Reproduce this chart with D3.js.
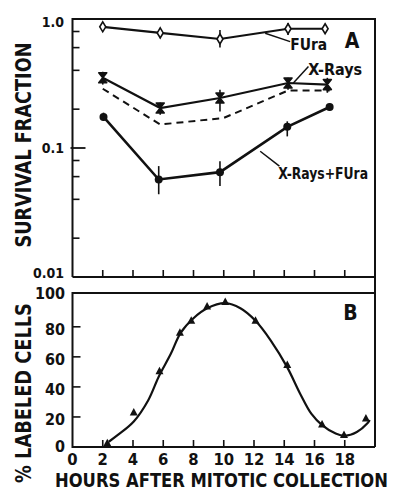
<!DOCTYPE html>
<html><head><meta charset="utf-8">
<script src="https://cdn.jsdelivr.net/npm/d3@7"></script>
<style>
html,body{margin:0;padding:0;background:#fff;}
svg text{font-family:"DejaVu Sans Condensed","Liberation Sans Narrow","DejaVu Sans",sans-serif;font-weight:bold;fill:#111;}
</style></head>
<body>
<svg id="chart" width="394" height="496"></svg>
<script>
// ---------- Panel A data (survival fraction, log scale) ----------
const furaHours = [2.0, 5.8, 9.75, 14.25, 16.7];
const furaSurv  = [0.87, 0.78, 0.70, 0.84, 0.84];
const furaLo    = [0.83, 0.71, 0.60, 0.75, 0.80];
const furaHi    = [0.91, 0.85, 0.82, 0.93, 0.88];

const xrayHours = [2.0, 5.8, 9.75, 14.25, 16.85];
const xraySurv  = [0.35, 0.204, 0.244, 0.319, 0.31];
const xrayLo    = [0.31, 0.181, 0.192, 0.283, 0.268];
const xrayHi    = [0.39, 0.225, 0.283, 0.35, 0.35];

const dashHours = [2.0, 5.8, 10.0, 14.25, 17.0];
const dashSurv  = [0.288, 0.152, 0.171, 0.279, 0.279];

const comboHours = [2.05, 5.7, 9.75, 14.2, 17.0];
const comboSurv  = [0.174, 0.057, 0.065, 0.146, 0.208];
const comboLo    = [0.162, 0.0438, 0.0507, 0.123, 0.195];
const comboHi    = [0.188, 0.0724, 0.079, 0.161, 0.222];

const yTicksA      = [1.0, 0.1, 0.01];
const yTickLabelsA = ["1.0", "0.1", "0.01"];
const yMinorTicksA = [0.8, 0.6, 0.4, 0.2, 0.08, 0.06, 0.04, 0.02];

// ---------- Panel B data (% labeled cells) ----------
const labHours = [2.3, 4.05, 5.75, 7.1, 7.85, 8.9, 10.1, 12.1, 14.2, 16.5, 17.95, 19.4];
const labPct   = [2.5, 23, 50.5, 76, 84, 93.5, 96.5, 84, 54.5, 15, 8, 19];

const curveHours = [2.4, 3.0, 4.05, 5.0, 5.7, 6.5, 7.15, 8.0, 8.9, 10.1, 11.1, 12.1, 13.1, 14.2, 15.05, 15.8, 16.5, 17.4, 18.0, 18.8, 19.5, 19.65];
const curvePct   = [3.5, 8, 17, 31, 46.8, 62, 76, 85.7, 92.3, 95.7, 92.3, 84, 71, 53, 35.5, 22, 14.6, 9, 7.5, 10, 15.8, 18];

const yTicksB = [0, 20, 40, 60, 80, 100];
const xTicks  = [0, 2, 4, 6, 8, 10, 12, 14, 16, 18];

// ---------- labels ----------
const yTitleA = "SURVIVAL FRACTION";
const yTitleB = "% LABELED CELLS";
const xTitle  = "HOURS AFTER MITOTIC COLLECTION";
const seriesNames = ["FUra", "X-Rays", "X-Rays+FUra"];
const panelNames  = ["A", "B"];

// ---------- layout ----------
const svg = d3.select("#chart");
const L = 72.5, R = 375;
const topA = 19, botA = 277, topB = 293, botB = 447;

const x  = d3.scaleLinear().domain([0, 20]).range([L, R]);
const yA = d3.scaleLog().domain([0.01, 1]).range([botA, topA]);
const yB = d3.scaleLinear().domain([0, 102.5]).range([botB, topB]);

const ink = "#111";

// text placed at (px,py), rotated by rot, horizontally squeezed to width w
function fitText(str, px, py, size, w, rot, anchor) {
  const g = svg.append("g");
  const t = g.append("text").attr("font-size", size).attr("text-anchor", anchor || "start").text(str);
  const nat = t.node().getComputedTextLength();
  const s = Math.min(1.3, w / nat);
  g.attr("transform", `translate(${px},${py}) rotate(${rot || 0}) scale(${s},1)`);
  return t;
}

// frames
svg.append("path").attr("fill","none").attr("stroke",ink).attr("stroke-width",2)
  .attr("d", `M${L},${botA}V${topA}H${R}V${botB}`);
svg.append("line").attr("x1",L).attr("x2",R).attr("y1",botA).attr("y2",botA).attr("stroke",ink).attr("stroke-width",2);
svg.append("path").attr("fill","none").attr("stroke",ink).attr("stroke-width",2)
  .attr("d", `M${R},${topB}H${L}V${botB}H${R}`);

// x ticks (inside, pointing up) for both panels
const xt = xTicks.filter(d => d > 0);
[botA, botB].forEach(b => {
  svg.append("g").selectAll("line").data(xt).join("line")
    .attr("x1", d => x(d)).attr("x2", d => x(d))
    .attr("y1", b).attr("y2", b - 7)
    .attr("stroke", ink).attr("stroke-width", 1.6);
});
svg.append("g").selectAll("text").data(xTicks).join("text")
  .attr("x", d => x(d)).attr("y", 464.5)
  .attr("text-anchor","middle").attr("font-size",16.5)
  .text(d => d);

// panel A y ticks
svg.append("g").selectAll("line").data(yMinorTicksA).join("line")
  .attr("x1", L).attr("x2", L + 7).attr("y1", d => yA(d)).attr("y2", d => yA(d))
  .attr("stroke", ink).attr("stroke-width", 1.6);
svg.append("line").attr("x1", L - 2).attr("x2", L + 13).attr("y1", yA(0.1)).attr("y2", yA(0.1))
  .attr("stroke", ink).attr("stroke-width", 1.8);
svg.append("g").selectAll("text").data(yTicksA).join("text")
  .attr("x", 64).attr("y", (d,i) => yA(d) + (i === 0 ? 8 : i === 2 ? 1 : 5))
  .attr("text-anchor","end").attr("font-size",14)
  .text((d,i) => yTickLabelsA[i]);

// panel B y ticks
svg.append("g").selectAll("line").data(yTicksB.filter(d => d > 0 && d < 100)).join("line")
  .attr("x1", L).attr("x2", L + 8).attr("y1", d => yB(d)).attr("y2", d => yB(d))
  .attr("stroke", ink).attr("stroke-width", 1.6);
svg.append("g").selectAll("text").data(yTicksB).join("text")
  .attr("x", 65).attr("y", d => d === 100 ? yB(d) + 2 : d === 0 ? yB(d) + 5 : yB(d) + 8)
  .attr("text-anchor","end").attr("font-size",16)
  .text(d => d);

// axis titles
fitText(yTitleA, 31, 145, 21, 205, -90, "middle");
fitText(yTitleB, 31, 393, 21, 180, -90, "middle");
fitText(xTitle, 55, 487, 19.5, 333, 0, "start");

// ---------- Panel A series ----------
const zip = (xs, ys) => xs.map((h, i) => [h, ys[i]]);
const lineA = d3.line().x(d => x(d[0])).y(d => yA(d[1]));

svg.append("path").datum(zip(dashHours, dashSurv)).attr("d", lineA)
  .attr("fill","none").attr("stroke",ink).attr("stroke-width",2).attr("stroke-dasharray","7,5");

[[furaHours, furaSurv], [xrayHours, xraySurv], [comboHours, comboSurv]].forEach(([h, v], k) => {
  svg.append("path").datum(zip(h, v)).attr("d", lineA)
    .attr("fill","none").attr("stroke",ink).attr("stroke-width", k === 2 ? 2.6 : 2.2);
});

// error bars
[[furaHours, furaLo, furaHi], [xrayHours, xrayLo, xrayHi], [comboHours, comboLo, comboHi]].forEach(([h, lo, hi]) => {
  svg.append("g").selectAll("line").data(h).join("line")
    .attr("x1", d => x(d)).attr("x2", d => x(d))
    .attr("y1", (d,i) => yA(lo[i])).attr("y2", (d,i) => yA(hi[i]))
    .attr("stroke", ink).attr("stroke-width", 1.6);
});

// markers: FUra open diamond
svg.append("g").selectAll("path").data(zip(furaHours, furaSurv)).join("path")
  .attr("transform", d => `translate(${x(d[0])},${yA(d[1])})`)
  .attr("d","M0,-5L3,0L0,5L-3,0Z")
  .attr("fill","#fff").attr("stroke",ink).attr("stroke-width",1.6);
// X-Rays hourglass
svg.append("g").selectAll("path").data(zip(xrayHours, xraySurv)).join("path")
  .attr("transform", d => `translate(${x(d[0])},${yA(d[1])})`)
  .attr("d","M-4,-5H4L-4,5H4Z")
  .attr("fill",ink).attr("stroke",ink).attr("stroke-width",1.6).attr("stroke-linejoin","round");
// combo filled circle
svg.append("g").selectAll("circle").data(zip(comboHours, comboSurv)).join("circle")
  .attr("cx", d => x(d[0])).attr("cy", d => yA(d[1])).attr("r", 4).attr("fill", ink);

// annotations (data coordinates)
const leaders = [
  [[12.74, 0.775], [14.39, 0.668]],
  [[15.6, 0.428], [14.6, 0.319]],
  [[12.41, 0.0944], [13.68, 0.0724]]
];
const labelPos = [[14.39, 0.576, 37], [15.58, 0.37, 54], [13.6, 0.0571, 90]];
leaders.forEach(seg => {
  svg.append("path").datum(seg).attr("d", lineA).attr("fill","none").attr("stroke",ink).attr("stroke-width",1.5);
});
labelPos.forEach((p, i) => {
  fitText(seriesNames[i], x(p[0]), yA(p[1]), 15, p[2], 0, "start");
});
svg.append("text").attr("x", x(18.0)).attr("y", yA(0.597)).attr("font-size",21).text(panelNames[0]);

// ---------- Panel B ----------
const lineB = d3.line().x(d => x(d[0])).y(d => yB(d[1])).curve(d3.curveCatmullRom.alpha(0.5));
svg.append("path").datum(zip(curveHours, curvePct)).attr("d", lineB)
  .attr("fill","none").attr("stroke",ink).attr("stroke-width",2.2);
svg.append("g").selectAll("path").data(zip(labHours, labPct)).join("path")
  .attr("transform", d => `translate(${x(d[0])},${yB(d[1])})`)
  .attr("d","M0,-4.5L4,3L-4,3Z").attr("fill",ink);
svg.append("text").attr("x", x(17.9)).attr("y", yB(84.5)).attr("font-size",21).text(panelNames[1]);
</script>
</body></html>
